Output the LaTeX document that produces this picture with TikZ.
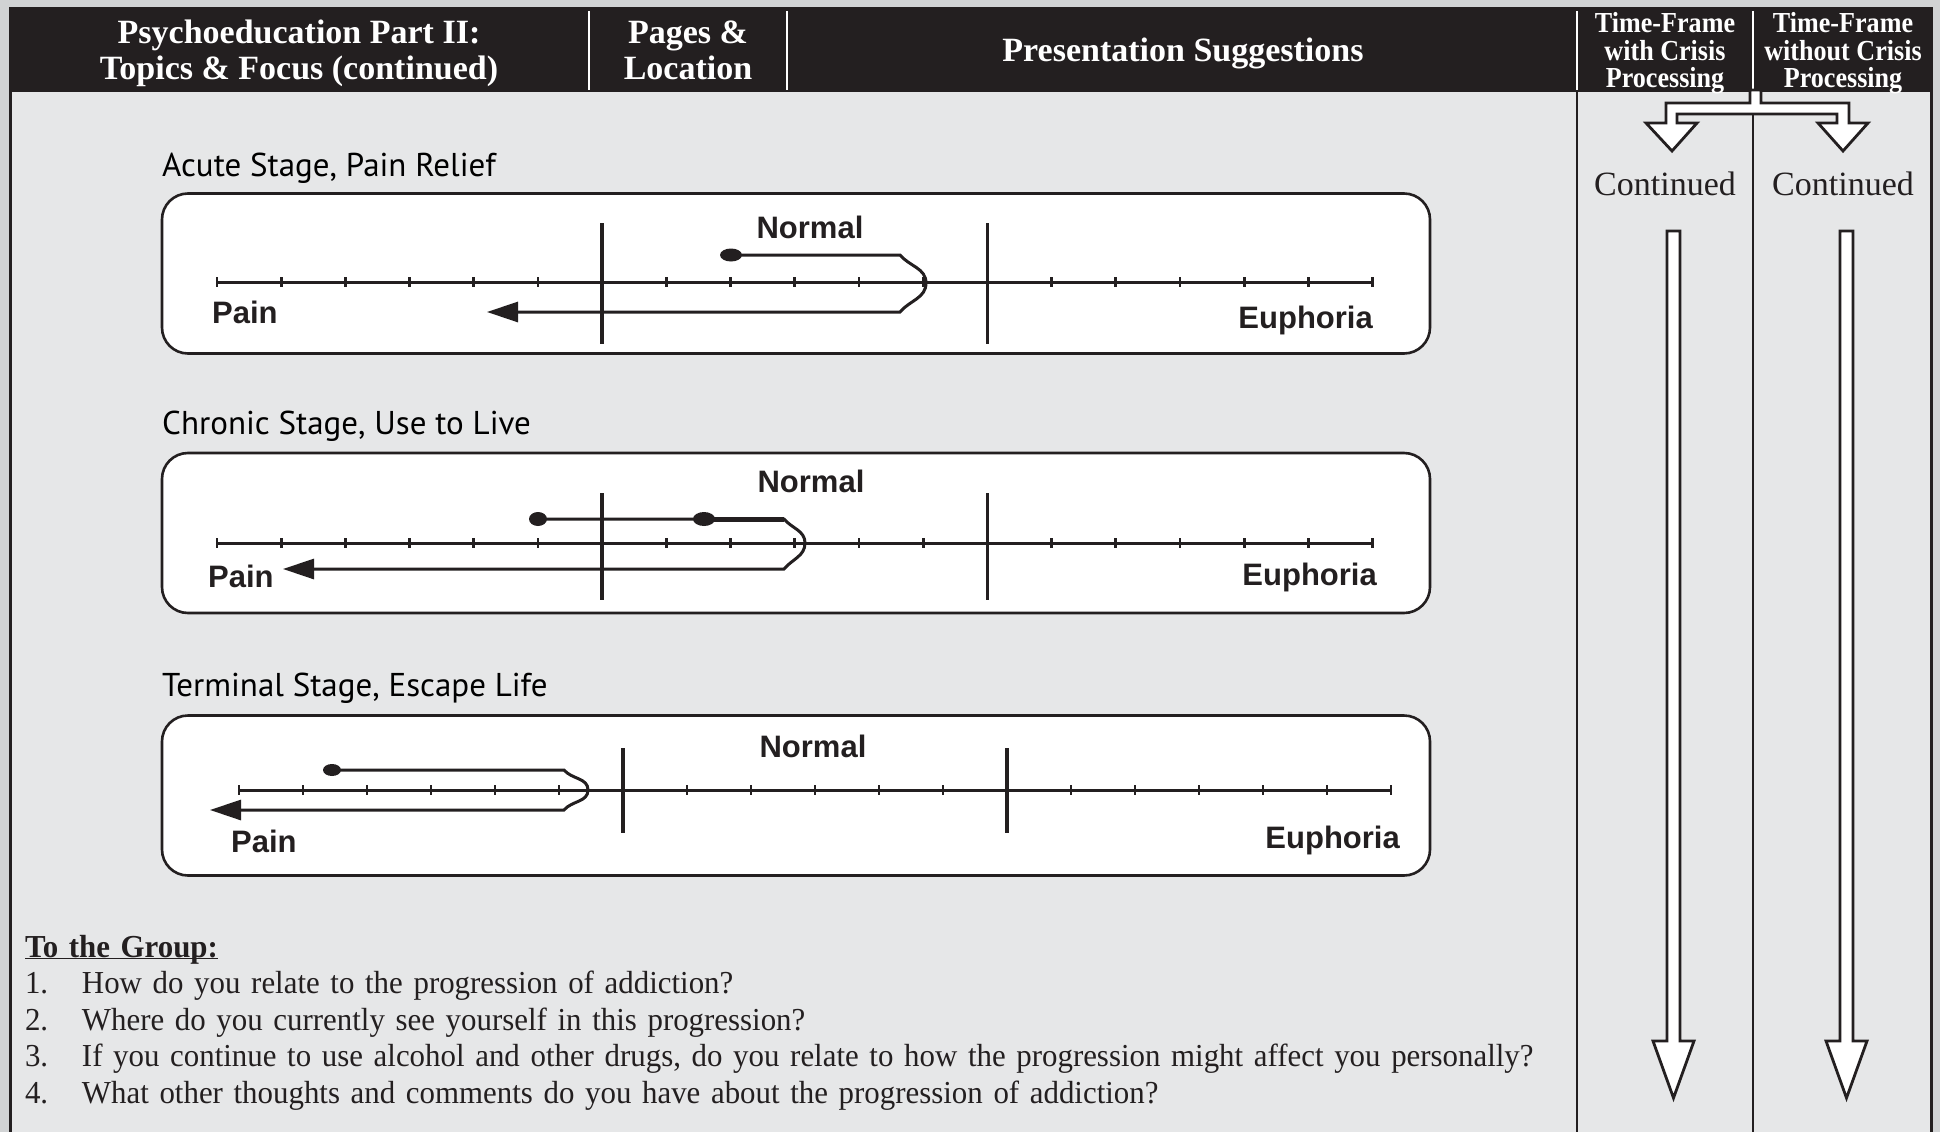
\documentclass[tikz,border=0pt]{standalone}
\usepackage{fontspec}
\setmainfont{Liberation Serif}
\newfontfamily\hvfont{Liberation Sans}
\newfontfamily\ptsans{PT Sans}
\newfontfamily\tfserif[FakeStretch=0.9]{Liberation Serif}
\newfontfamily\qserif[FakeStretch=0.965]{Liberation Serif}
\usetikzlibrary{positioning,arrows.meta}

\definecolor{ink}{HTML}{231F20}
\definecolor{pagebg}{HTML}{D1D3D4}
\definecolor{panelbg}{HTML}{E6E7E8}

\newcommand{\hdrfont}{\fontsize{34}{36}\selectfont\bfseries}
\newcommand{\tfhdrfont}{\tfserif\fontsize{29}{28}\selectfont\bfseries}
\newcommand{\stagefont}{\ptsans\fontsize{33}{36}\selectfont}
\newcommand{\lblfont}{\hvfont\fontsize{31}{34}\selectfont\bfseries}
\newcommand{\contfont}{\fontsize{34}{36}\selectfont}
\newcommand{\qfont}{\qserif\fontsize{32}{36}\selectfont}

\begin{document}
\begin{tikzpicture}[x=1pt, y=-1pt, node distance=36.5pt,
    hdr/.style={text=white, font=\hdrfont, anchor=base, inner sep=0pt},
    tfhdr/.style={text=white, font=\tfhdrfont, anchor=base, inner sep=0pt},
    stagetitle/.style={font=\stagefont, anchor=base west, inner sep=0pt},
    stagebox/.style={rectangle, draw=ink, fill=white, line width=2.6pt, rounded corners=26pt, minimum width=1268pt, minimum height=160pt},
    scalelbl/.style={font=\lblfont, text=ink, inner sep=0pt},
    axis/.style={draw=ink, line width=3pt},
    tick/.style={draw=ink, line width=2.8pt},
    bar/.style={draw=ink, line width=3.6pt},
    track/.style={draw=ink, line width=3pt},
    arrow/.style={track, -{Triangle[length=31pt,width=20pt]}},
    usedot/.style={fill=ink},
    blockarrow/.style={draw=ink, fill=white, line width=2.8pt, line join=miter},
    rule/.style={draw=ink, line width=2.2pt},
    question/.style={font=\qfont, text=ink, text width=1580pt, align=left, inner sep=0pt, text height=24pt, text depth=8pt}
  ]
    \useasboundingbox (0,0) rectangle (1940,1132);

    % Page and frame
    \fill[pagebg] (0,0) rectangle (1940,1132);
    \fill[panelbg] (10,92) rectangle (1932,1132);
    \fill[ink] (9,7) rectangle (1933,92);
    \draw[rule, line width=3.5pt] (10.5,92) -- (10.5,1132);
    \draw[rule, line width=3pt] (1931.5,92) -- (1931.5,1132);
    \draw[rule] (1577,92) -- (1577,1132);
    \draw[rule] (1753,92) -- (1753,1132);
    \foreach \x in {589,787,1577,1753}
      \draw[white, line width=2.2pt] (\x,11) -- (\x,90);

    % Header
    \node (h_topics) [hdr] at (299,44) {Psychoeducation Part II:};
    \node (h_topics2) [hdr] at (299,79.5) {Topics \& Focus (continued)};
    \node (h_pages) [hdr] at (688,44) {Pages \&};
    \node (h_pages2) [hdr] at (688,79.5) {Location};
    \node (h_present) [hdr] at (1183,61.5) {Presentation Suggestions};
    \node (h_with) [tfhdr] at (1665,32.5) {Time-Frame};
    \node (h_with2) [tfhdr] at (1665,60) {with Crisis};
    \node (h_with3) [tfhdr] at (1665,87) {Processing};
    \node (h_without) [tfhdr] at (1843,32.5) {Time-Frame};
    \node (h_without2) [tfhdr] at (1843,60) {without Crisis};
    \node (h_without3) [tfhdr] at (1843,87) {Processing};

    % Acute Stage
    \node (acute_title) [stagetitle] at (162,176) {Acute Stage, Pain Relief};
    \node (acute_box) [stagebox] at (796,273.5) {};
    \draw[axis] (217,282) -- (1372.6,282);
    \foreach \i in {0,...,18}
      \draw[tick] ({217+64.2*\i},277) -- ({217+64.2*\i},287);
    \draw[bar] (602.2,223) -- (602.2,344);
    \draw[bar] (987.4,223) -- (987.4,344);
    \node (acute_normal) [scalelbl, anchor=base] at (810,238) {Normal};
    \node (acute_pain) [scalelbl, anchor=base west] at (212,323) {Pain};
    \node (acute_euph) [scalelbl, anchor=base east] at (1373,328) {Euphoria};
    \coordinate (acute_use) at (731,255);
    \coordinate (acute_end) at (487,312);
    \fill[usedot] (acute_use) ellipse [x radius=11pt, y radius=6.5pt];
    \draw[arrow] (acute_use) -- (900,255) to[out=-50,in=90] (926,283)
      to[out=-90,in=50] (900,312) -- (acute_end);

    % Chronic Stage
    \node (chronic_title) [stagetitle] at (162,434.5) {Chronic Stage, Use to Live};
    \node (chronic_box) [stagebox] at (796,533) {};
    \draw[axis] (217,543) -- (1372.6,543);
    \foreach \i in {0,...,18}
      \draw[tick] ({217+64.2*\i},538) -- ({217+64.2*\i},548);
    \draw[bar] (602.2,493) -- (602.2,600);
    \draw[bar] (987.4,493) -- (987.4,600);
    \node (chronic_normal) [scalelbl, anchor=base] at (811,492) {Normal};
    \node (chronic_pain) [scalelbl, anchor=base west] at (208,587) {Pain};
    \node (chronic_euph) [scalelbl, anchor=base east] at (1377,585) {Euphoria};
    \coordinate (chronic_use) at (538,519);
    \coordinate (chronic_more) at (704,519);
    \coordinate (chronic_end) at (283,569);
    \fill[usedot] (chronic_use) ellipse [x radius=9pt, y radius=7pt];
    \fill[usedot] (chronic_more) ellipse [x radius=11pt, y radius=7pt];
    \draw[track, line width=5pt] (chronic_more) -- (784,519);
    \draw[arrow] (chronic_use) -- (784,519) to[out=-50,in=90] (805,543)
      to[out=-90,in=50] (784,569) -- (chronic_end);

    % Terminal Stage
    \node (terminal_title) [stagetitle] at (162,696.5) {Terminal Stage, Escape Life};
    \node (terminal_box) [stagebox] at (796,795.5) {};
    \draw[axis] (239,790) -- (1391,790);
    \foreach \i in {0,...,18}
      \draw[tick] ({239+64*\i},785) -- ({239+64*\i},795);
    \draw[bar] (623,748) -- (623,833);
    \draw[bar] (1007,748) -- (1007,833);
    \node (terminal_normal) [scalelbl, anchor=base] at (813,757) {Normal};
    \node (terminal_pain) [scalelbl, anchor=base west] at (231,852) {Pain};
    \node (terminal_euph) [scalelbl, anchor=base east] at (1400,848) {Euphoria};
    \coordinate (terminal_use) at (332,770);
    \coordinate (terminal_end) at (210,810);
    \fill[usedot] (terminal_use) ellipse [x radius=9pt, y radius=6pt];
    \draw[arrow] (terminal_use) -- (564,770) to[out=-50,in=90] (588,790)
      to[out=-90,in=50] (564,810) -- (terminal_end);

    % Questions
    \node (q_head) [question] at (815,949) {\bfseries\underline{\smash{To the Group:}}};
    \node (q1) [question, below of=q_head] {\makebox[57pt][l]{1.}How do you relate to the progression of addiction?};
    \node (q2) [question, below of=q1] {\makebox[57pt][l]{2.}Where do you currently see yourself in this progression?};
    \node (q3) [question, below of=q2] {\makebox[57pt][l]{3.}If you continue to use alcohol and other drugs, do you relate to how the progression might affect you personally?};
    \node (q4) [question, below of=q3] {\makebox[57pt][l]{4.}What other thoughts and comments do you have about the progression of addiction?};

    % Time-frame arrows
    \draw[blockarrow] (1750,90) -- (1761,90) -- (1761,103) -- (1849,103) -- (1849,123)
      -- (1868,123) -- (1843,151) -- (1818,123) -- (1837,123) -- (1837,114)
      -- (1677,114) -- (1677,123) -- (1697,123) -- (1672,151) -- (1646,123)
      -- (1666,123) -- (1666,103) -- (1750,103) -- cycle;
    \node (cont_with) [font=\contfont, text=ink, anchor=base] at (1665,195) {Continued};
    \node (cont_without) [font=\contfont, text=ink, anchor=base] at (1843,195) {Continued};
    \coordinate (with_top) at (1673.5,231);
    \coordinate (without_top) at (1846.5,231);
    \draw[blockarrow] (with_top) ++(-6.5,0) -- ++(13,0) -- ++(0,810) -- ++(14,0)
      -- ++(-20.5,57) -- ++(-20.5,-57) -- ++(14,0) -- cycle;
    \draw[blockarrow] (without_top) ++(-6.5,0) -- ++(13,0) -- ++(0,810) -- ++(14,0)
      -- ++(-20.5,57) -- ++(-20.5,-57) -- ++(14,0) -- cycle;
  \end{tikzpicture}
\end{document}
